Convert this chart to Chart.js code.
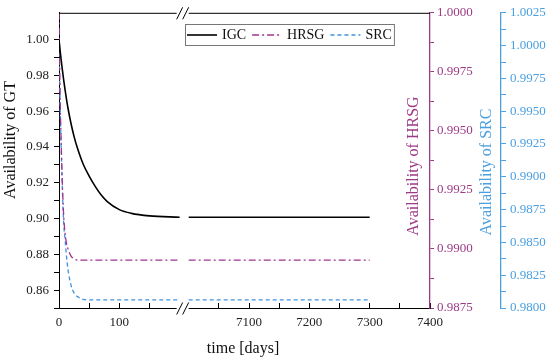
<!DOCTYPE html>
<html>
<head>
<meta charset="utf-8">
<script src="https://cdn.jsdelivr.net/npm/chart.js@4/dist/chart.umd.min.js"></script>
<style>
  html, body { margin: 0; padding: 0; background: #fff; }
  #wrap { width: 550px; height: 363px; position: relative; }
</style>
</head>
<body>
<div id="wrap"><canvas id="availChart"></canvas></div>
<script>
// days on the left part of the broken axis
const daysEarly = [0, 2, 4, 6, 8, 10, 12, 15, 20, 25, 30, 40, 50, 60, 70, 80, 100, 120, 150, 200];
// days on the right part
const daysLate = [7000, 7300];

const igcEarly = [1.0000, 0.9935, 0.9875, 0.9820, 0.9768, 0.9720, 0.9676, 0.9615, 0.9530, 0.9458,
  0.9400, 0.9305, 0.9237, 0.9180, 0.9131, 0.9095, 0.9050, 0.9029, 0.9015, 0.9007];
const hrsgEarly = [1.0000, 0.99627, 0.99415, 0.99246, 0.99131, 0.99068, 0.99030, 0.99000, 0.98970, 0.98958,
  0.98953, 0.98953, 0.98953, 0.98953, 0.98953, 0.98953, 0.98953, 0.98953, 0.98953, 0.98953];
const srcEarly = [1.0000, 0.99522, 0.99159, 0.98842, 0.98628, 0.98528, 0.98414, 0.98291, 0.98173, 0.98115,
  0.98089, 0.98066, 0.98062, 0.98062, 0.98062, 0.98062, 0.98062, 0.98062, 0.98062, 0.98062];
const igcLate = [0.9007, 0.9007];
const hrsgLate = [0.98953, 0.98953];
const srcLate = [0.98062, 0.98062];

const seriesNames = ['IGC', 'HRSG', 'SRC'];
const xLeftRange = [0, 205];
const xRightRange = [6990, 7400];

const serif = 'Liberation Serif, Times New Roman, serif';
const purple = '#9c3a86';
const blue = '#4a9fe0';

const toPoints = (xs, ys) => xs.map((x, i) => ({ x: x, y: ys[i] }));

const styles = [
  { color: '#000000', dash: [], width: 1.6, y: 'y' },
  { color: '#a0348e', dash: [7, 3, 2, 3], width: 1.3, y: 'yH' },
  { color: '#3f92e0', dash: [4, 3], width: 1.3, y: 'yS' }
];
const early = [igcEarly, hrsgEarly, srcEarly];
const late = [igcLate, hrsgLate, srcLate];

const datasets = [];
seriesNames.forEach((name, i) => {
  const s = styles[i];
  datasets.push({
    label: name, data: toPoints(daysEarly, early[i]), xAxisID: 'x', yAxisID: s.y,
    borderColor: s.color, borderDash: s.dash, borderWidth: s.width,
    pointRadius: 0, cubicInterpolationMode: 'monotone', fill: false
  });
});
seriesNames.forEach((name, i) => {
  const s = styles[i];
  datasets.push({
    label: name + ' ', data: toPoints(daysLate, late[i]), xAxisID: 'x2', yAxisID: s.y,
    borderColor: s.color, borderDash: s.dash, borderWidth: s.width,
    pointRadius: 0, fill: false
  });
});

// titles, top frame, axis breaks and legend
const extras = {
  id: 'extras',
  afterDraw(chart) {
    const { ctx, chartArea } = chart;
    const brk = chart.scales.x.right;
    ctx.save();
    ctx.strokeStyle = '#000';
    ctx.lineWidth = 1;
    ctx.beginPath();
    ctx.moveTo(chartArea.left, chartArea.top + 0.5);
    ctx.lineTo(chartArea.right, chartArea.top + 0.5);
    ctx.stroke();

    [chartArea.top + 0.5, chartArea.bottom + 0.5].forEach(y => {
      ctx.fillStyle = '#fff';
      ctx.fillRect(brk - 6, y - 2, 12, 4);
      ctx.beginPath();
      [-3, 3].forEach(dx => {
        ctx.moveTo(brk + dx - 3, y + 6);
        ctx.lineTo(brk + dx + 3, y - 6);
      });
      ctx.stroke();
    });

    const vText = (text, x, y, color) => {
      ctx.save();
      ctx.translate(x, y);
      ctx.rotate(-Math.PI / 2);
      ctx.fillStyle = color;
      ctx.font = '16px ' + serif;
      ctx.textAlign = 'center';
      ctx.textBaseline = 'middle';
      ctx.fillText(text, 0, 0);
      ctx.restore();
    };
    vText('Availability of GT', 11, 140, '#111');
    vText('Availability of HRSG', chart.scales.yH.left - 16, 166, purple);
    vText('Availability of SRC', chart.scales.yS.left - 14, 172, blue);

    ctx.fillStyle = '#111';
    ctx.font = '16px ' + serif;
    ctx.textAlign = 'center';
    ctx.textBaseline = 'middle';
    ctx.fillText('time [days]', 243, 349);

    // legend box inside the plot
    const lx = 185, ly = 24, lh = 21;
    ctx.font = '14px ' + serif;
    let x = lx + 2;
    const items = seriesNames.map((name, i) => {
      const it = { name: name, s: styles[i], x0: x };
      x += 30 + 5 + ctx.measureText(name).width + 6;
      return it;
    });
    const lw = x - 6 + 2 - lx;
    ctx.fillStyle = '#fff';
    ctx.fillRect(lx, ly, lw, lh);
    ctx.strokeStyle = '#777';
    ctx.strokeRect(lx + 0.5, ly + 0.5, lw, lh);
    items.forEach(it => {
      const cy = ly + lh / 2 + 0.5;
      ctx.strokeStyle = it.s.color;
      ctx.lineWidth = it.s.width;
      ctx.setLineDash(it.s.dash);
      ctx.beginPath();
      ctx.moveTo(it.x0, cy);
      ctx.lineTo(it.x0 + 30, cy);
      ctx.stroke();
      ctx.setLineDash([]);
      ctx.fillStyle = '#111';
      ctx.textAlign = 'left';
      ctx.fillText(it.name, it.x0 + 35, cy);
    });
    ctx.restore();
  }
};

const tickFont = { family: serif, size: 13 };

new Chart(document.getElementById('availChart'), {
  type: 'line',
  data: { datasets: datasets },
  options: {
    responsive: true,
    maintainAspectRatio: false,
    animation: false,
    layout: { padding: { top: 12, left: 0, right: 0, bottom: 0 } },
    plugins: { legend: { display: false }, tooltip: { enabled: false } },
    scales: {
      x: {
        type: 'linear', position: 'bottom', stack: 'time', stackWeight: xLeftRange[1] - xLeftRange[0],
        min: xLeftRange[0], max: xLeftRange[1],
        afterFit: s => { s.height = 55; },
        afterBuildTicks: s => { s.ticks = s.ticks.filter(t => t.value <= 150); },
        grid: { drawOnChartArea: false, tickLength: -5, color: '#000' },
        border: { color: '#000' },
        ticks: { stepSize: 50, autoSkip: false, maxRotation: 0, padding: 12, color: '#222', font: tickFont,
          callback: v => (v % 100 === 0 ? v : '') }
      },
      x2: {
        type: 'linear', position: 'bottom', stack: 'time', stackWeight: xRightRange[1] - xRightRange[0],
        min: xRightRange[0], max: xRightRange[1],
        afterFit: s => { s.height = 55; },
        afterBuildTicks: s => { s.ticks = s.ticks.filter(t => t.value >= 7050); },
        grid: { drawOnChartArea: false, tickLength: -5, color: '#000' },
        border: { color: '#000' },
        ticks: { stepSize: 50, autoSkip: false, maxRotation: 0, padding: 12, color: '#222', font: tickFont,
          callback: v => (v % 100 === 0 ? v : '') }
      },
      y: {
        position: 'left', min: 0.85, max: 1.015,
        afterFit: s => { s.width = 59; },
        afterBuildTicks: s => { s.ticks = s.ticks.filter(t => t.value <= 1.0101); },
        grid: { drawOnChartArea: false, tickLength: 5, color: '#000' },
        border: { color: '#000' },
        ticks: { stepSize: 0.01, autoSkip: false, padding: 5, color: '#222', font: tickFont,
          callback: v => (Math.round(v * 100) % 2 === 0 ? v.toFixed(2) : '') }
      },
      yH: {
        position: 'right', weight: 1, min: 0.9875, max: 1.0,
        afterFit: s => { s.width = 71; },
        grid: { drawOnChartArea: false, tickLength: 4, color: purple },
        border: { color: purple, width: 1.3 },
        ticks: { stepSize: 0.00125, autoSkip: false, padding: 3, color: purple, font: tickFont,
          callback: v => (Math.round(v * 800) % 2 === 0 ? v.toFixed(4) : '') }
      },
      yS: {
        position: 'right', weight: 2, min: 0.98, max: 1.0025,
        afterFit: s => { s.width = 49; },
        grid: { drawOnChartArea: false, tickLength: 5, color: blue },
        border: { color: blue, width: 1.3 },
        ticks: { stepSize: 0.00125, autoSkip: false, padding: 4, color: blue, font: tickFont,
          callback: v => (Math.round(v * 800) % 2 === 0 ? v.toFixed(4) : '') }
      }
    }
  },
  plugins: [extras]
});
</script>
</body>
</html>
